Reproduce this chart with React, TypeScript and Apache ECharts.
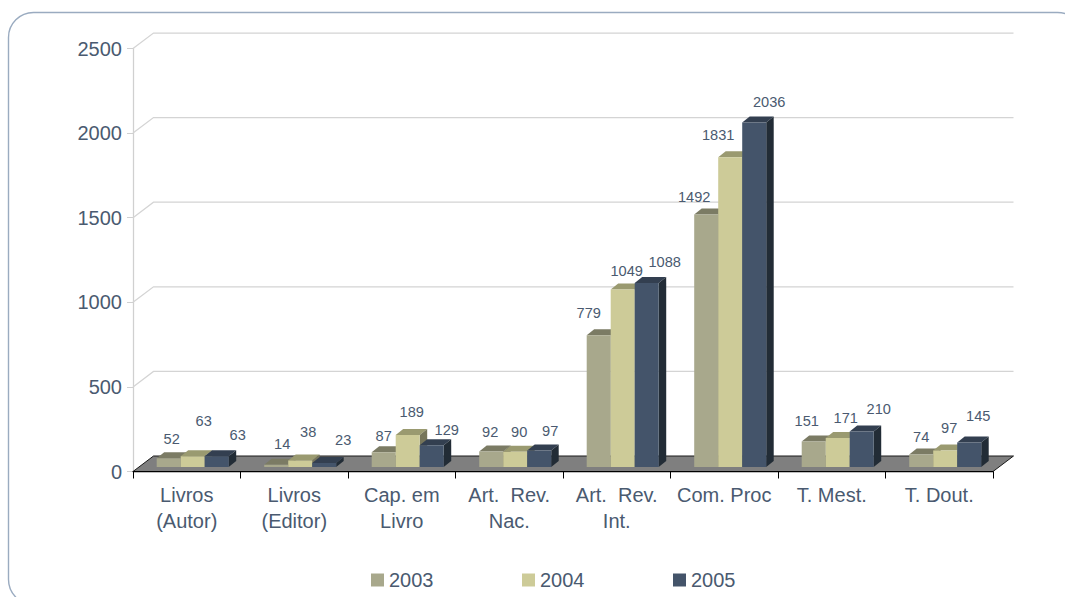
import React, { useEffect, useRef } from "react";
import * as echarts from "echarts";

const categories = [
  "Livros\n(Autor)",
  "Livros\n(Editor)",
  "Cap. em\nLivro",
  "Art.  Rev.\nNac.",
  "Art.  Rev.\nInt.",
  "Com. Proc",
  "T. Mest.",
  "T. Dout.",
];
const values2003 = [52, 14, 87, 92, 779, 1492, 151, 74];
const values2004 = [63, 38, 189, 90, 1049, 1831, 171, 97];
const values2005 = [63, 23, 129, 97, 1088, 2036, 210, 145];
const yearNames = ["2003", "2004", "2005"];
const yTicks = [500, 1000, 1500, 2000, 2500];

// Hand-placed label offsets (px) from each bar's front top centre, as in the reference.
const labelOffsets2003 = [[3, -19], [6, -21], [0, -16], [-1, -19], [-10, -22], [-12, -18], [-7, -20], [0, -17]];
const labelOffsets2004 = [[11, -35], [8, -29], [4, -23], [4, -20], [4, -19], [-12, -22], [8, -20], [4, -23]];
const labelOffsets2005 = [[21, -21], [19, -23], [15, -15], [11, -20], [18, -21], [15, -21], [17, -22], [9, -26]];

const TEXT = "#4a5a70";
const FONT = "Liberation Sans, Arial, sans-serif";
const WALL_DX = 20.5;
const WALL_DY = 15.5;
const BAR_DX = 7.5;
const BAR_DY = 6;
const BASE_LIFT = 4.5;

const palettes = [
  { front: "#a8a88c", top: "#7b7b64", side: "#5e5e4e" },
  { front: "#cdcb98", top: "#9a9a70", side: "#76755a" },
  { front: "#44546a", top: "#333f50", side: "#222c36" },
];

function barSeries(index: number, values: number[], offsets: number[][]) {
  const pal = palettes[index];
  return {
    type: "custom",
    name: yearNames[index],
    itemStyle: { color: pal.front },
    z: 5,
    clip: false,
    encode: { x: 0, y: 1 },
    data: values.map((v, i) => [i, v, offsets[i][0], offsets[i][1]]),
    renderItem: (_p: any, api: any) => {
      const bw = api.size([1, 0])[0];
      const [cx, topRaw] = api.coord([api.value(0), api.value(1)]);
      const baseRaw = api.coord([api.value(0), 0])[1];
      const w = bw * 0.2233;
      const x0 = cx - bw / 2 + bw * 0.2205 + index * w;
      const x1 = x0 + w;
      const top = topRaw - BASE_LIFT;
      const base = baseRaw - BASE_LIFT;
      return {
        type: "group",
        children: [
          {
            type: "polygon",
            shape: { points: [[x0, top], [x0 + BAR_DX, top - BAR_DY], [x1 + BAR_DX, top - BAR_DY], [x1, top]] },
            style: { fill: pal.top },
          },
          {
            type: "polygon",
            shape: { points: [[x1, top], [x1 + BAR_DX, top - BAR_DY], [x1 + BAR_DX, base - BAR_DY], [x1, base]] },
            style: { fill: pal.side },
          },
          {
            type: "rect",
            shape: { x: x0, y: top, width: w, height: base - top },
            style: { fill: pal.front },
          },
          {
            type: "text",
            z2: 50,
            style: {
              x: (x0 + x1) / 2 + api.value(2),
              y: top + api.value(3),
              text: String(api.value(1)),
              fill: TEXT,
              font: `14.6px ${FONT}`,
              align: "center",
              verticalAlign: "middle",
            },
          },
        ],
      };
    },
  };
}

export default function App() {
  const ref = useRef<HTMLDivElement>(null);
  useEffect(() => {
    document.body.style.margin = "0";
    document.body.style.overflow = "hidden";
    const chart = echarts.init(ref.current!, undefined, { renderer: "svg" });
    chart.setOption({
      animation: false,
      backgroundColor: "#ffffff",
      textStyle: { fontFamily: FONT },
      graphic: [
        {
          type: "rect",
          z: 0,
          silent: true,
          shape: { x: 8.5, y: 12.5, width: 1074, height: 592, r: 25 },
          style: { fill: "none", stroke: "#9aabc0", lineWidth: 1.4 },
        },
      ],
      grid: { left: 133, right: 72, top: 48.5, bottom: 125.5, containLabel: false },
      legend: {
        left: 371,
        top: 570,
        itemWidth: 13,
        itemHeight: 13,
        itemGap: 88.5,
        icon: "rect",
        data: yearNames,
        textStyle: { color: TEXT, fontSize: 20, fontFamily: FONT, padding: [0, 0, 0, 0] },
        padding: 0,
      },
      xAxis: {
        type: "category",
        data: categories,
        boundaryGap: true,
        axisLine: { show: true, lineStyle: { color: "#000000", width: 1.25 }, onZero: false },
        axisTick: { show: true, length: 7, alignWithLabel: false, lineStyle: { color: "#000000", width: 1 } },
        axisLabel: { interval: 0, color: TEXT, fontSize: 20, fontFamily: FONT, lineHeight: 26, margin: 10 },
        splitLine: { show: false },
        z: 6,
      },
      yAxis: {
        type: "value",
        min: 0,
        max: 2500,
        interval: 500,
        axisLine: { show: true, lineStyle: { color: "#d0d0d0", width: 1.25 } },
        axisTick: { show: true, length: 6, lineStyle: { color: "#d0d0d0", width: 1 } },
        axisLabel: { color: TEXT, fontSize: 20, fontFamily: FONT, margin: 11, formatter: (v: number) => String(v) },
        splitLine: { show: false },
      },
      series: [
        {
          type: "custom",
          name: "walls",
          z: 1,
          clip: false,
          silent: true,
          encode: { y: 0 },
          data: yTicks.map((t) => [t]),
          renderItem: (p: any, api: any) => {
            const cs = p.coordSys;
            const y = api.coord([0, api.value(0)])[1];
            return {
              type: "polyline",
              shape: {
                points: [
                  [cs.x, y],
                  [cs.x + WALL_DX, y - WALL_DY],
                  [cs.x + cs.width + WALL_DX, y - WALL_DY],
                ],
              },
              style: { fill: "none", stroke: "#d4d4d4", lineWidth: 1.25 },
            };
          },
        },
        {
          type: "custom",
          name: "floor",
          z: 2,
          clip: false,
          silent: true,
          encode: { y: 0 },
          data: [[0]],
          renderItem: (p: any, api: any) => {
            const cs = p.coordSys;
            const y = api.coord([0, api.value(0)])[1];
            return {
              type: "polygon",
              shape: {
                points: [
                  [cs.x, y],
                  [cs.x + WALL_DX, y - WALL_DY],
                  [cs.x + cs.width + WALL_DX, y - WALL_DY],
                  [cs.x + cs.width, y],
                ],
              },
              style: { fill: "#7f7f7f", stroke: "#1a1a1a", lineWidth: 1 },
            };
          },
        },
        barSeries(0, values2003, labelOffsets2003),
        barSeries(1, values2004, labelOffsets2004),
        barSeries(2, values2005, labelOffsets2005),
      ],
    });
    return () => chart.dispose();
  }, []);
  return <div ref={ref} style={{ position: "absolute", left: 0, top: 0, width: 1065, height: 597 }} />;
}
